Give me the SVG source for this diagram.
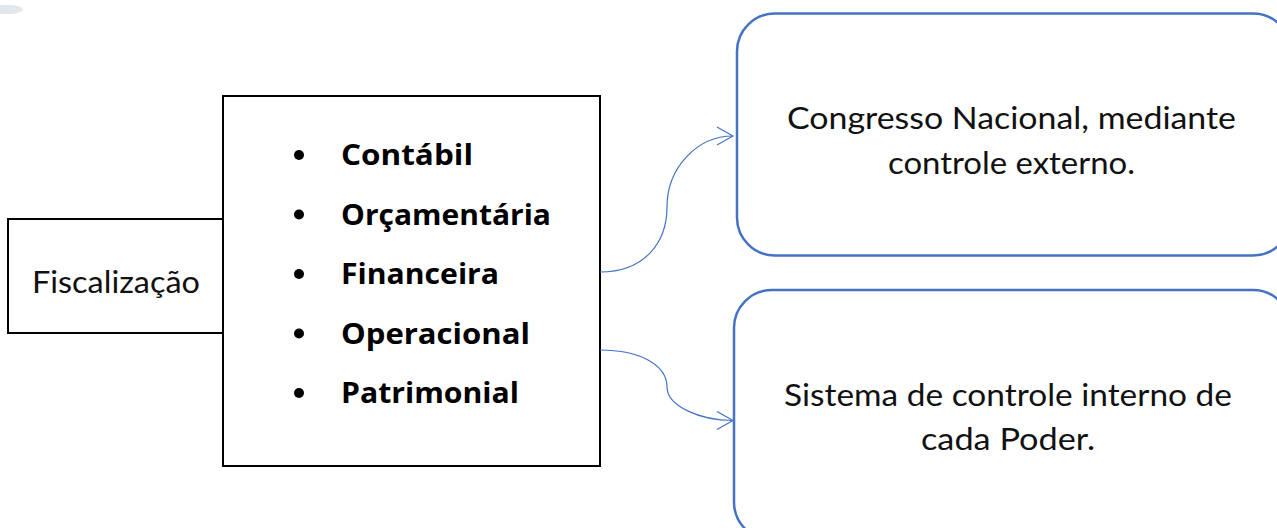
<svg xmlns="http://www.w3.org/2000/svg" width="1277" height="528" viewBox="0 0 1277 528">
<style>
.box{fill:#fff;stroke:#000;stroke-width:2}
.rbox{fill:#fff;stroke:#4472C4;stroke-width:2.5}
.conn{fill:none;stroke:#4472C4;stroke-width:1.2}
.item{font-family:"Open Sans",Lato,sans-serif;font-weight:700;font-size:29px;fill:#000}
.lbl{font-family:Lato,"Open Sans",sans-serif;font-weight:400;font-size:30px;fill:#111}
.bul{fill:#000}
</style>
<defs>
<marker id="arr" markerWidth="20" markerHeight="24" refX="17" refY="10" orient="auto" markerUnits="userSpaceOnUse">
<path d="M1,1 L17,10 L1,19" fill="none" stroke="#4472C4" stroke-width="1.2"/>
</marker>
</defs>
<rect width="1277" height="528" fill="#fff"/>
<path d="M0,5 L13,5 Q23,7 23,9.5 Q23,12 13,14 L0,14 Z" fill="#e1e7eb"/>
<g id="fiscalizacao">
<rect class="box" x="8" y="219" width="215" height="114"/>
<text class="lbl" x="32" y="293" textLength="168" lengthAdjust="spacingAndGlyphs">Fiscalização</text>
</g>
<g id="tipos">
<rect class="box" x="223" y="96" width="377" height="370"/>
<circle class="bul" cx="299" cy="155" r="5"/>
<circle class="bul" cx="299" cy="214.5" r="5"/>
<circle class="bul" cx="299" cy="274" r="5"/>
<circle class="bul" cx="299" cy="333.5" r="5"/>
<circle class="bul" cx="299" cy="393" r="5"/>
<text class="item" x="341" y="165" textLength="132" lengthAdjust="spacingAndGlyphs">Contábil</text>
<text class="item" x="341" y="224.5" textLength="210" lengthAdjust="spacingAndGlyphs">Orçamentária</text>
<text class="item" x="341" y="284" textLength="158" lengthAdjust="spacingAndGlyphs">Financeira</text>
<text class="item" x="341" y="343.5" textLength="189" lengthAdjust="spacingAndGlyphs">Operacional</text>
<text class="item" x="341" y="403" textLength="178" lengthAdjust="spacingAndGlyphs">Patrimonial</text>
</g>
<g id="congresso">
<rect class="rbox" x="737" y="13.5" width="554" height="242" rx="38" ry="38"/>
<text class="lbl" x="787" y="129" textLength="449" lengthAdjust="spacingAndGlyphs">Congresso Nacional, mediante</text>
<text class="lbl" x="888" y="174" textLength="247" lengthAdjust="spacingAndGlyphs">controle externo.</text>
</g>
<g id="controle-interno">
<rect class="rbox" x="734" y="290" width="557" height="250" rx="38" ry="38"/>
<text class="lbl" x="784" y="406" textLength="448" lengthAdjust="spacingAndGlyphs">Sistema de controle interno de</text>
<text class="lbl" x="921" y="450" textLength="174" lengthAdjust="spacingAndGlyphs">cada Poder.</text>
</g>
<g id="connectors">
<path class="conn" d="M600,272 C645,272 667,242 667,207 C667,168 697,136 733,136" marker-end="url(#arr)"/>
<path class="conn" d="M600,350 C640,350 667,365 667,387 C667,406 700,420.5 733,420.5" marker-end="url(#arr)"/>
</g>
</svg>
